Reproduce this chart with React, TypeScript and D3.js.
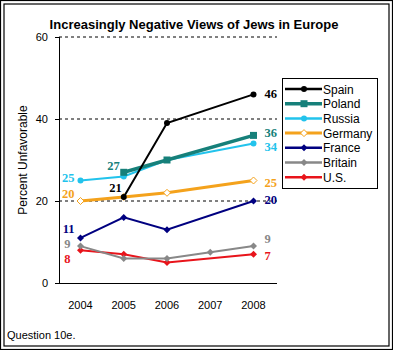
import React from "react";
import * as d3 from "d3";

const years = [2004, 2005, 2006, 2007, 2008];
const yTicks = [0, 20, 40, 60];
const seriesNames = ["Spain", "Poland", "Russia", "Germany", "France", "Britain", "U.S."];
const spain = [null, 21, 39, null, 46];
const poland = [null, 27, 30, null, 36];
const russia = [25, 26, 30, null, 34];
const germany = [20, 21, 22, null, 25];
const france = [11, 16, 13, null, 20];
const britain = [9, 6, 6, 7.5, 9];
const us = [8, 7, 5, null, 7];
const seriesValues = [spain, poland, russia, germany, france, britain, us];
const colors = ["#000000", "#16807a", "#22c3ec", "#f4a21c", "#000080", "#888888", "#e8141b"];
const widths = [2, 3.5, 2, 3, 2, 2, 2];
const markers = ["circle", "square", "circle", "odiamond", "diamond", "diamond", "diamond"];
const startLabels = ["21", "27", "25", "20", "11", "9", "8"];
const endLabels = ["46", "36", "34", "25", "20", "9", "7"];

const FONT = "'Liberation Sans', Arial, sans-serif";
const SERIF = "'Liberation Serif', 'Times New Roman', serif";

function Marker({ type, x, y, color }: { type: string; x: number; y: number; color: string }) {
  if (type === "circle") return <circle cx={x} cy={y} r={3} fill={color} />;
  if (type === "square") return <rect x={x - 3.5} y={y - 3.5} width={7} height={7} fill={color} />;
  const s = 3.5;
  const pts = `${x},${y - s} ${x + s},${y} ${x},${y + s} ${x - s},${y}`;
  if (type === "odiamond") return <polygon points={pts} fill="#fff" stroke={color} strokeWidth={1} />;
  return <polygon points={pts} fill={color} />;
}

export default function App() {
  const x = d3.scalePoint<number>().domain(years).range([80.5, 253.5]);
  const y = d3.scaleLinear().domain([0, 60]).range([283, 37]);
  const line = d3
    .line<[number, number]>()
    .x((d) => x(d[0]) as number)
    .y((d) => y(d[1]));

  const startPos = [
    { dx: -2, dy: -5 },
    { dx: -4, dy: -2 },
    { dx: -6, dy: 1.5 },
    { dx: -6, dy: -3 },
    { dx: -6, dy: -5 },
    { dx: -10, dy: 2 },
    { dx: -10, dy: 13 },
  ];
  const endDy = [4, 2, 7.5, 6.5, 3, -3, 6];

  return (
    <div style={{ position: "absolute", left: 0, top: 0 }}>
      <svg width={393} height={350} style={{ display: "block", background: "#fff" }}>
        <rect x={0.5} y={0.5} width={392} height={349} fill="#fff" stroke="#000" strokeWidth={1.2} />
        <rect x={4} y={4} width={385} height={342} fill="none" stroke="#000" strokeWidth={1.2} />
        <text x={194} y={29} textAnchor="middle" fontFamily={FONT} fontWeight="bold" fontSize={13}>
          Increasingly Negative Views of Jews in Europe
        </text>
        {yTicks.filter((t) => t > 0).map((t) => (
          <line key={t} x1={59} x2={277} y1={y(t)} y2={y(t)} stroke="#000" strokeWidth={1} strokeDasharray="3,3" />
        ))}
        <line x1={59.5} x2={59.5} y1={37} y2={283} stroke="#000" strokeWidth={1} />
        <line x1={59} x2={277} y1={283.5} y2={283.5} stroke="#000" strokeWidth={1} />
        {yTicks.map((t) => (
          <g key={t}>
            <line x1={55} x2={59} y1={y(t) + 0.5} y2={y(t) + 0.5} stroke="#000" />
            <text x={48} y={y(t) + 4} textAnchor="end" fontFamily={FONT} fontSize={11}>
              {t}
            </text>
          </g>
        ))}
        {years.map((yr) => (
          <text key={yr} x={x(yr)} y={309} textAnchor="middle" fontFamily={FONT} fontSize={11}>
            {yr}
          </text>
        ))}
        <text transform={`translate(27,160) rotate(-90)`} textAnchor="middle" fontFamily={FONT} fontSize={12}>
          Percent Unfavorable
        </text>
        {seriesValues
          .map((vals, i) => ({ vals, i }))
          .reverse()
          .map(({ vals, i }) => {
            const pts = years
              .map((yr, k) => [yr, vals[k]] as [number, number | null])
              .filter((d) => d[1] !== null) as [number, number][];
            return (
              <g key={i}>
                <path d={line(pts) || ""} fill="none" stroke={colors[i]} strokeWidth={widths[i]} />
                {pts.map((p, k) => (
                  <Marker key={k} type={markers[i]} x={x(p[0]) as number} y={y(p[1])} color={colors[i]} />
                ))}
              </g>
            );
          })}
        {seriesValues.map((vals, i) => {
          const firstIdx = vals.findIndex((v) => v !== null);
          const v0 = vals[firstIdx] as number;
          const vN = vals[vals.length - 1] as number;
          const sp = startPos[i];
          return (
            <g key={i} fontFamily={SERIF} fontWeight="bold" fontSize={12.5} fill={colors[i]}>
              <text x={(x(years[firstIdx]) as number) + sp.dx} y={y(v0) + sp.dy} textAnchor="end">
                {startLabels[i]}
              </text>
              <text x={(x(years[4]) as number) + 11} y={y(vN) + endDy[i]}>
                {endLabels[i]}
              </text>
            </g>
          );
        })}
        <rect x={282.5} y={78.5} width={95} height={110} fill="#fff" stroke="#000" strokeWidth={1} />
        {seriesNames.map((name, i) => {
          const ly = 89 + i * 14.7;
          return (
            <g key={name}>
              <line x1={285} x2={322} y1={ly} y2={ly} stroke={colors[i]} strokeWidth={widths[i] === 2 ? 2.5 : widths[i]} />
              <Marker type={markers[i]} x={304} y={ly} color={colors[i]} />
              <text x={323} y={ly + 4.5} fontFamily={FONT} fontSize={12}>
                {name}
              </text>
            </g>
          );
        })}
        <text x={7} y={339} fontFamily={FONT} fontSize={11}>
          Question 10e.
        </text>
      </svg>
    </div>
  );
}
